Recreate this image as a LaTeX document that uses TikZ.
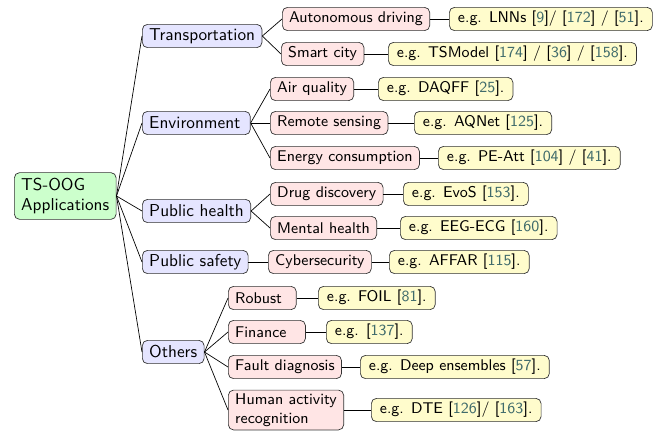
\documentclass[tikz,border=0pt]{standalone}
\usepackage{tikz}
\usepackage{xcolor}
\definecolor{citec}{rgb}{0.25,0.42,0.42}
\newcommand{\cit}[1]{[\textcolor{citec}{#1}]}

\begin{document}
\begin{tikzpicture}[x=0.58pt,y=-0.58pt,font=\sffamily]
  \tikzstyle{box}=[draw=black!80,rounded corners=3pt,anchor=west,inner xsep=4pt,inner ysep=2pt,minimum height=13.5pt,align=left]
  \tikzstyle{rootbox}=[box,fill=green!20,inner ysep=3pt]
  \tikzstyle{catbox}=[box,fill=blue!10]
  \tikzstyle{areabox}=[box,fill=red!10,font=\sffamily\small]
  \tikzstyle{refbox}=[box,fill=yellow!20,font=\sffamily\small,inner xsep=5pt]
  \useasboundingbox (0,0) rectangle (665,431);
  % root
  \node[rootbox] (root) at (14,196) {TS-OOG\\Applications};
  % categories
  \node[catbox] (trans) at (142,36) {Transportation};
  \node[catbox,text width=54.6pt] (env) at (142,123) {Environment};
  \node[catbox] (ph) at (142,211) {Public health};
  \node[catbox] (ps) at (142,262) {Public safety};
  \node[catbox] (oth) at (142,352) {Others};
  % areas
  \node[areabox] (ad) at (282,19) {Autonomous driving};
  \node[areabox] (sc) at (281,54) {Smart city};
  \node[areabox] (aq) at (270,89) {Air quality};
  \node[areabox] (rs) at (270,123) {Remote sensing};
  \node[areabox] (ec) at (270,158) {Energy consumption};
  \node[areabox] (dd) at (270,194) {Drug discovery};
  \node[areabox] (mh) at (270,228) {Mental health};
  \node[areabox] (cy) at (268,262) {Cybersecurity};
  \node[areabox,text width=31.4pt] (rb) at (228,298) {Robust};
  \node[areabox,text width=36.7pt] (fi) at (228,332) {Finance};
  \node[areabox] (fd) at (228,367) {Fault diagnosis};
  \node[areabox] (ha) at (228,410) {Human activity\\recognition};
  % examples
  \node[refbox] (lnn) at (449,19) {e.g. LNNs \cit{9}/ \cit{172} / \cit{51}.};
  \node[refbox] (tsm) at (388,54) {e.g. TSModel \cit{174} / \cit{36} / \cit{158}.};
  \node[refbox] (daq) at (378,89) {e.g. DAQFF \cit{25}.};
  \node[refbox] (aqn) at (414,123) {e.g. AQNet \cit{125}.};
  \node[refbox] (pea) at (438,158) {e.g. PE-Att \cit{104} / \cit{41}.};
  \node[refbox] (evo) at (403,194) {e.g. EvoS \cit{153}.};
  \node[refbox] (eeg) at (400,228) {e.g. EEG-ECG \cit{160}.};
  \node[refbox] (aff) at (389,262) {e.g. AFFAR \cit{115}.};
  \node[refbox] (foil) at (318,298) {e.g. FOIL \cit{81}.};
  \node[refbox] (fin) at (326,332) {e.g. \cit{137}.};
  \node[refbox] (dee) at (360,367) {e.g. Deep ensembles \cit{57}.};
  \node[refbox] (dte) at (371,410) {e.g. DTE \cit{126}/ \cit{163}.};
  % edges
  \foreach \a/\b in {root/trans,root/env,root/ph,root/ps,root/oth,
    trans/ad,trans/sc,env/aq,env/rs,env/ec,ph/dd,ph/mh,ps/cy,
    oth/rb,oth/fi,oth/fd,oth/ha,
    ad/lnn,sc/tsm,aq/daq,rs/aqn,ec/pea,dd/evo,mh/eeg,cy/aff,
    rb/foil,fi/fin,fd/dee,ha/dte}
    \draw (\a.east) -- (\b.west);
\end{tikzpicture}
\end{document}
